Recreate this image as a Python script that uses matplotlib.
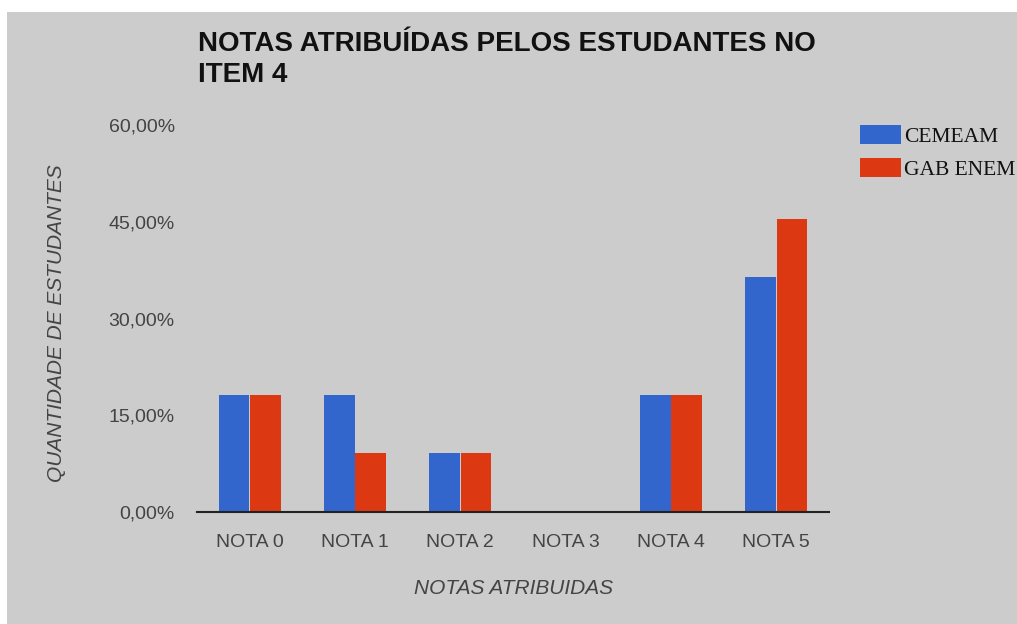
import matplotlib
matplotlib.use("Agg")
import matplotlib.pyplot as plt
import numpy as np
from matplotlib.ticker import FuncFormatter
from matplotlib.patches import Rectangle

# dados (percentual de estudantes)
notas = ["NOTA 0", "NOTA 1", "NOTA 2", "NOTA 3", "NOTA 4", "NOTA 5"]
cemeam = [18.18, 18.18, 9.09, 0.0, 18.18, 36.36]
gab_enem = [18.18, 9.09, 9.09, 0.0, 18.18, 45.45]
yticks = [0, 15, 30, 45, 60]

azul = "#3366cc"
vermelho = "#dc3912"
fundo = "#cccccc"

W, H = 1017, 624
fig = plt.figure(figsize=(W / 100, H / 100), dpi=100, facecolor="white")
# area cinza (pequena margem branca em cima e a esquerda)
fig.patches.append(Rectangle((7 / W, 0), 1 - 7 / W, 1 - 12 / H,
                             transform=fig.transFigure, facecolor=fundo,
                             edgecolor="none", zorder=-5))

ax = fig.add_axes([197 / W, 112 / H, 632 / W, 387 / H])
ax.set_zorder(1)
ax.patch.set_alpha(0)

x = np.arange(len(notas))
w = 0.29
ax.bar(x - 0.148, cemeam, w, color=azul, label="CEMEAM", zorder=2)
ax.bar(x + 0.148, gab_enem, w, color=vermelho, label="GAB ENEM", zorder=2)

ax.set_xlim(-0.5, len(notas) - 0.5)
ax.set_ylim(0, 60)
ax.set_yticks(yticks)
ax.yaxis.set_major_formatter(FuncFormatter(lambda v, p: ("%.2f%%" % v).replace(".", ",")))
ax.set_xticks(x)
ax.set_xticklabels(notas)

for s in ["top", "right", "left"]:
    ax.spines[s].set_visible(False)
ax.spines["bottom"].set_color("#222222")
ax.spines["bottom"].set_linewidth(1.5)
ax.spines["bottom"].set_zorder(3)
ax.tick_params(axis="both", length=0, labelcolor="#444444", labelsize=14)
ax.tick_params(axis="y", pad=16)
ax.tick_params(axis="x", pad=16)
for t in ax.get_xticklabels() + ax.get_yticklabels():
    t.set_fontfamily("Liberation Sans")

fig.text(198 / W, 1 - 31 / H, "NOTAS ATRIBUÍDAS PELOS ESTUDANTES NO\nITEM 4",
         ha="left", va="top", fontsize=20, fontweight="bold",
         family="Liberation Sans", color="#111111", linespacing=1.25)

fig.text(513 / W, 1 - 589 / H, "NOTAS ATRIBUIDAS", ha="center", va="center",
         fontsize=15, style="italic", family="Liberation Sans", color="#444444")
fig.text(56 / W, 1 - 323 / H, "QUANTIDADE DE ESTUDANTES", ha="center", va="center",
         rotation=90, fontsize=15, style="italic", family="Liberation Sans",
         color="#444444")

leg = fig.legend(loc="upper left", bbox_to_anchor=(845 / W, 1 - 110 / H),
                 frameon=False, prop={"family": "Liberation Serif", "size": 15.5},
                 handlelength=1.9, handleheight=0.98, handletextpad=0.15,
                 labelspacing=0.5, borderpad=0.2)
for t in leg.get_texts():
    t.set_color("#111111")

fig.savefig("out.png", dpi=100, facecolor="white")
